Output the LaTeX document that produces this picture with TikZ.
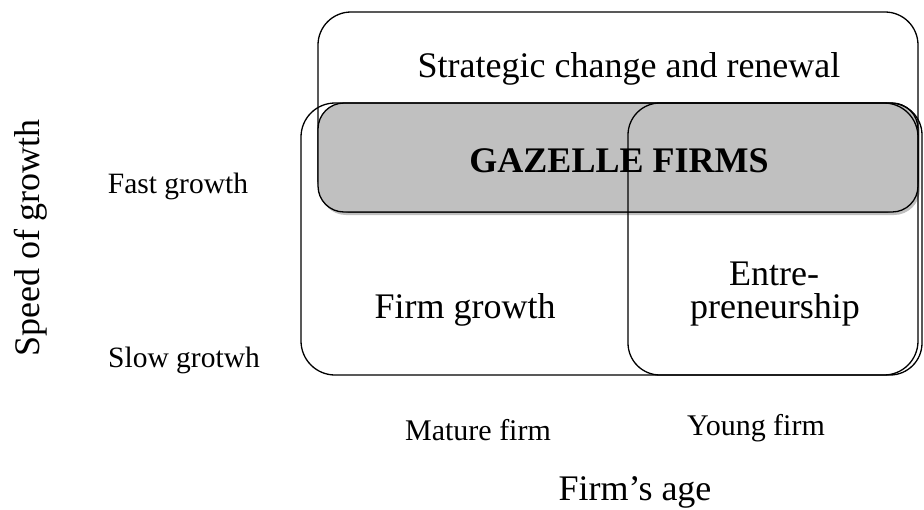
\documentclass[tikz,border=0pt]{standalone}
\usepackage{fontspec}
\setmainfont{Liberation Serif}
\usetikzlibrary{shadows}
\definecolor{bandgray}{RGB}{192,192,192}
\tikzset{
  frame/.style={draw=black, line width=1.3pt, rectangle, inner sep=0pt},
  lbl/.style={anchor=base, inner sep=0pt},
  big/.style={lbl, font=\fontsize{36}{33}\selectfont},
  small/.style={lbl, font=\fontsize{29.5}{33}\selectfont},
}
\begin{document}
\begin{tikzpicture}[x=1pt,y=-1pt]
\useasboundingbox (0,0) rectangle (924,509);
% outer box: strategic change and renewal
\node[frame, fill=white, rounded corners=33pt, minimum width=600pt, minimum height=200pt] (strat) at (618,112) {};
% shaded band where the fields overlap
\node[frame, fill=bandgray, rounded corners=26pt, minimum width=600pt, minimum height=109pt,
      drop shadow={shadow xshift=2pt, shadow yshift=-3pt, fill=black, opacity=0.25}] (band) at (618,157.5) {};
% labels inside the boxes
\node[big] (tstrat) at (629,77) {Strategic change and renewal};
\node[big, font=\fontsize{36}{33}\selectfont\bfseries] (tgaz) at (619,172) {GAZELLE FIRMS};
\node[big] (tfirm) at (465,318) {Firm growth};
\node[big] (tentreA) at (774,285) {Entre-};
\node[big] (tentreB) at (775,318) {preneurship};
% firm growth and entrepreneurship boxes
\node[frame, rounded corners=34pt, minimum width=617pt, minimum height=272pt] (firm) at (609.5,239) {};
\node[frame, rounded corners=32pt, minimum width=294pt, minimum height=272pt] (entre) at (775,239) {};
% axis labels
\node[small] (fast) at (178,193) {Fast growth};
\node[small] (slow) at (184,367) {Slow grotwh};
\node[big, rotate=90] (speed) at (39,238) {Speed of growth};
\node[small, font=\fontsize{30}{33}\selectfont] (mature) at (478,440) {Mature firm};
\node[small, font=\fontsize{30}{33}\selectfont] (young) at (756,435) {Young firm};
\node[big] (age) at (635,500) {Firm’s age};
\end{tikzpicture}
\end{document}
